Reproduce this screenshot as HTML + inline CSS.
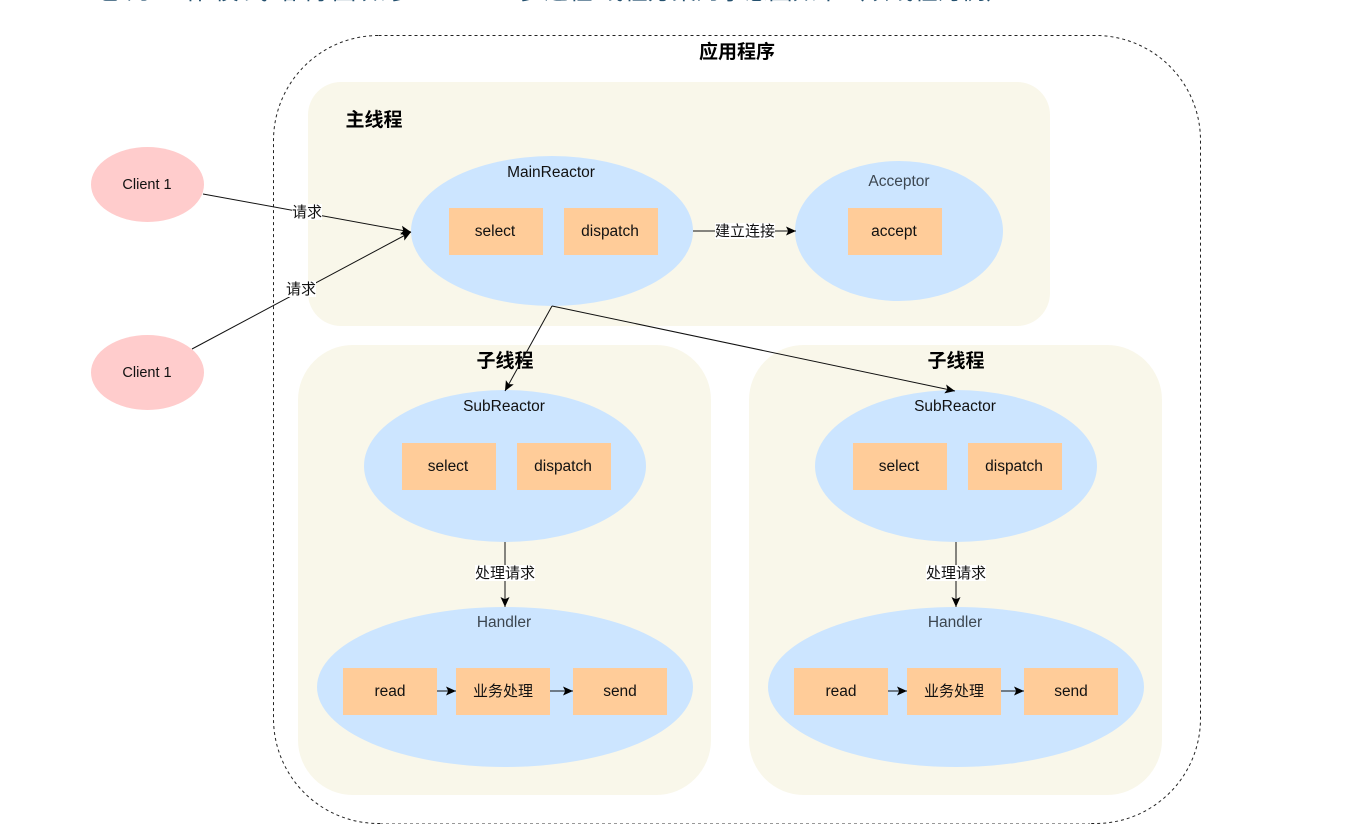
<!DOCTYPE html>
<html><head><meta charset="utf-8">
<style>
html,body{margin:0;padding:0;background:#fff;width:1371px;height:833px;overflow:hidden}
svg{display:block;filter:blur(.35px)}
text{font-family:"Liberation Sans","Noto Sans CJK SC",sans-serif;font-size:15.5px;fill:#111;text-anchor:middle}
.z{font-size:15px}
.c{font-size:14.5px}
.t{font-size:19px;font-weight:bold;fill:#000}
.g{fill:#3c4650}
.h{font-size:24px;text-anchor:start;fill:#24506e}
</style></head><body>
<svg width="1371" height="833" viewBox="0 0 1371 833" xmlns="http://www.w3.org/2000/svg">
<defs>
<marker id="a" markerUnits="userSpaceOnUse" markerWidth="11" markerHeight="10" refX="10" refY="5" orient="auto"><path d="M0,.500 L10,5 L0,9.500 L2.200,5 Z" fill="#000"/></marker>
</defs>
<text class="h" x="97" y="-1" textLength="318" lengthAdjust="spacing">它的工作模式结构图如多</text>
<text class="h" x="425" y="-1" textLength="85" lengthAdjust="spacing" style="font-size:20px">Reactor</text>
<text class="h" x="520" y="-1" textLength="490" lengthAdjust="spacing">多进程/线程方案的示意图如下（以线程为例）</text>

<rect x="273.500" y="35.500" width="927" height="788" rx="105" ry="105" fill="#fff" stroke="#222" stroke-width="1" stroke-dasharray="3 3"/>
<line x1="380" y1="823.500" x2="1090" y2="823.500" stroke="#fff" stroke-width="2"/>
<line x1="380" y1="823.500" x2="1090" y2="823.500" stroke="#999" stroke-width="1" stroke-dasharray="3 3"/>
<text class="t" x="737" y="58">应用程序</text>

<rect x="308" y="82" width="742" height="244" rx="33" fill="#f9f7ea"/>
<rect x="298" y="345" width="413" height="450" rx="55" fill="#f9f7ea"/>
<rect x="749" y="345" width="413" height="450" rx="55" fill="#f9f7ea"/>

<text class="t" x="374" y="126">主线程</text>
<text class="t" x="505" y="367">子线程</text>
<text class="t" x="956" y="367">子线程</text>

<ellipse cx="147.500" cy="184.500" rx="56.500" ry="37.500" fill="#ffcccc"/>
<ellipse cx="147.500" cy="372.500" rx="56.500" ry="37.500" fill="#ffcccc"/>
<text class="c" x="147" y="189">Client 1</text>
<text class="c" x="147" y="377">Client 1</text>

<ellipse cx="552" cy="231" rx="141" ry="75" fill="#cce5ff"/>
<ellipse cx="899" cy="231" rx="104" ry="70" fill="#cce5ff"/>
<ellipse cx="505" cy="466" rx="141" ry="76" fill="#cce5ff"/>
<ellipse cx="956" cy="466" rx="141" ry="76" fill="#cce5ff"/>
<ellipse cx="505" cy="687" rx="188" ry="80" fill="#cce5ff"/>
<ellipse cx="956" cy="687" rx="188" ry="80" fill="#cce5ff"/>

<g fill="#ffcc99">
<rect x="449" y="208" width="94" height="47"/>
<rect x="564" y="208" width="94" height="47"/>
<rect x="848" y="208" width="94" height="47"/>
<rect x="402" y="443" width="94" height="47"/>
<rect x="517" y="443" width="94" height="47"/>
<rect x="853" y="443" width="94" height="47"/>
<rect x="968" y="443" width="94" height="47"/>
<rect x="343" y="668" width="94" height="47"/>
<rect x="456" y="668" width="94" height="47"/>
<rect x="573" y="668" width="94" height="47"/>
<rect x="794" y="668" width="94" height="47"/>
<rect x="907" y="668" width="94" height="47"/>
<rect x="1024" y="668" width="94" height="47"/>
</g>

<g fill="none" stroke="#111" stroke-width="1">
<line x1="203" y1="194" x2="411" y2="232" marker-end="url(#a)"/>
<line x1="192" y1="349" x2="411" y2="232" marker-end="url(#a)"/>
<line x1="693" y1="231" x2="796" y2="231" marker-end="url(#a)"/>
<line x1="552" y1="306" x2="505" y2="391" marker-end="url(#a)"/>
<line x1="552" y1="306" x2="955" y2="391" marker-end="url(#a)"/>
<line x1="505" y1="542" x2="505" y2="607" marker-end="url(#a)"/>
<line x1="956" y1="542" x2="956" y2="607" marker-end="url(#a)"/>
<line x1="437" y1="691" x2="456" y2="691" marker-end="url(#a)"/>
<line x1="550" y1="691" x2="573" y2="691" marker-end="url(#a)"/>
<line x1="888" y1="691" x2="907" y2="691" marker-end="url(#a)"/>
<line x1="1001" y1="691" x2="1024" y2="691" marker-end="url(#a)"/>
</g>

<g fill="#fff">
<rect x="292" y="204" width="30" height="16"/>
<rect x="286" y="281" width="30" height="16"/>
<rect x="715" y="223" width="60" height="16"/>
<rect x="475" y="565" width="60" height="16"/>
<rect x="926" y="565" width="60" height="16"/>
</g>
<text class="z" x="307" y="217">请求</text>
<text class="z" x="301" y="294">请求</text>
<text class="z" x="745" y="236">建立连接</text>
<text class="z" x="505" y="578">处理请求</text>
<text class="z" x="956" y="578">处理请求</text>

<text x="551" y="177">MainReactor</text>
<text class="g" x="899" y="186">Acceptor</text>
<text x="504" y="411">SubReactor</text>
<text x="955" y="411">SubReactor</text>
<text class="g" x="504" y="627">Handler</text>
<text class="g" x="955" y="627">Handler</text>

<text x="495" y="236">select</text>
<text x="610" y="236">dispatch</text>
<text x="894" y="236">accept</text>
<text x="448" y="471">select</text>
<text x="563" y="471">dispatch</text>
<text x="899" y="471">select</text>
<text x="1014" y="471">dispatch</text>
<text x="390" y="696">read</text>
<text class="z" x="503" y="696">业务处理</text>
<text x="620" y="696">send</text>
<text x="841" y="696">read</text>
<text class="z" x="954" y="696">业务处理</text>
<text x="1071" y="696">send</text>
</svg>
</body></html>
